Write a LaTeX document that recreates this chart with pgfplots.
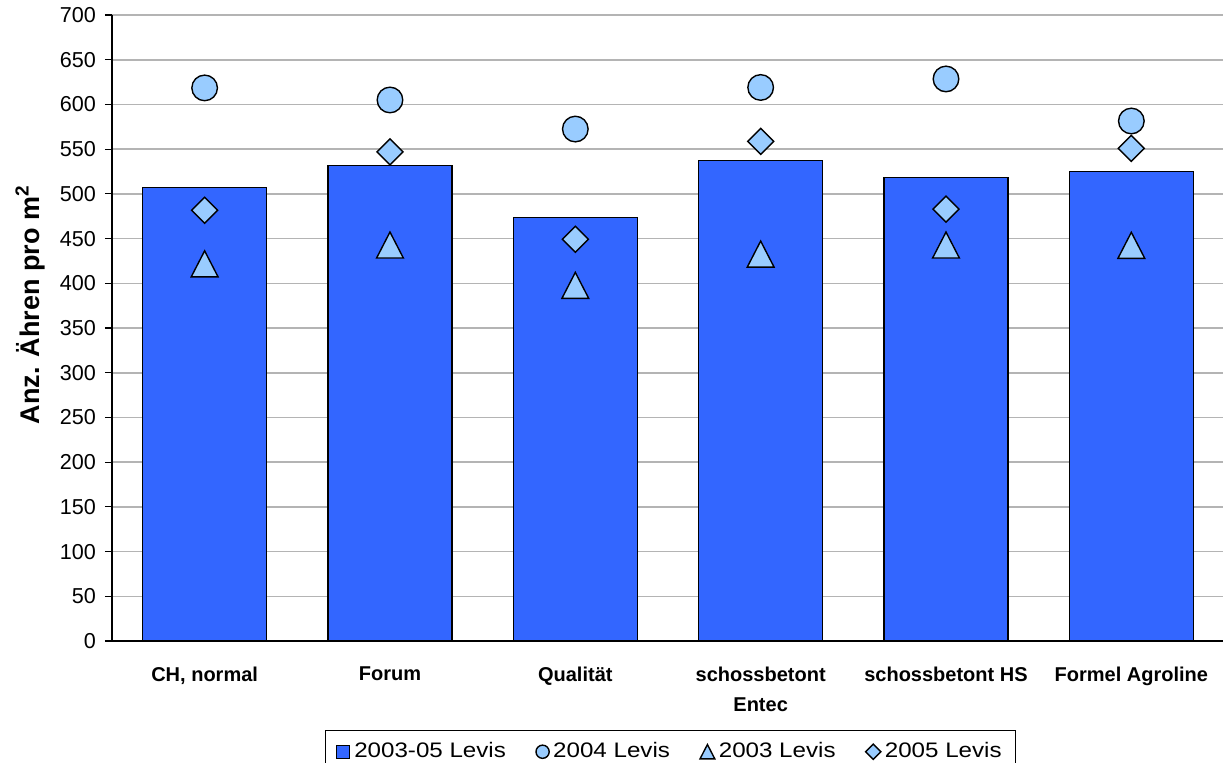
\documentclass[border=0pt]{standalone}
\usepackage{fontspec}
\setmainfont{Liberation Sans}
\newfontfamily\legfont[FakeStretch=1.15]{Liberation Sans}
\usepackage{pgfplots}
\pgfplotsset{compat=1.18}

\definecolor{barblue}{HTML}{3366FF}
\definecolor{markblue}{HTML}{99CCFF}
\definecolor{gridgray}{HTML}{B4B4B4}

% triangle and diamond centred on their bounding box
\pgfdeclareplotmark{boxtri}{%
  \pgfpathmoveto{\pgfqpoint{0pt}{\pgfplotmarksize}}%
  \pgfpathlineto{\pgfqpoint{-1.03\pgfplotmarksize}{-\pgfplotmarksize}}%
  \pgfpathlineto{\pgfqpoint{1.03\pgfplotmarksize}{-\pgfplotmarksize}}%
  \pgfpathclose\pgfusepathqfillstroke}
\pgfdeclareplotmark{boxdia}{%
  \pgfpathmoveto{\pgfqpoint{0pt}{\pgfplotmarksize}}%
  \pgfpathlineto{\pgfqpoint{\pgfplotmarksize}{0pt}}%
  \pgfpathlineto{\pgfqpoint{0pt}{-\pgfplotmarksize}}%
  \pgfpathlineto{\pgfqpoint{-\pgfplotmarksize}{0pt}}%
  \pgfpathclose\pgfusepathqfillstroke}

% a single, smaller mark as legend image
\pgfplotsset{smallmarkleg/.style={legend image code/.code={\draw[mark size=#1, ##1] plot coordinates {(4pt,0pt)};}}}

\begin{document}
\begin{tikzpicture}
\begin{axis}[
  scale only axis,
  width=556pt, height=313pt,
  xmin=-0.5, xmax=5.5,
  ymin=0, ymax=700,
  ytick={0,50,...,700},
  axis x line*=bottom,
  axis y line*=left,
  axis line style={black, line width=0.7pt},
  ymajorgrids,
  major grid style={gridgray, line width=0.8pt},
  tick align=outside,
  major tick length=3.5pt,
  tick style={black, line width=0.6pt},
  xtick={0,...,5},
  xticklabels={CH{,} normal, Forum, Qualität, schossbetont\\Entec, schossbetont HS, Formel Agroline},
  x tick style={draw=none},
  extra x ticks={-0.5,0.5,1.5,2.5,3.5,4.5},
  extra x tick labels={},
  extra x tick style={grid=none, tick style={draw=gray!80!black, line width=0.6pt}, major tick length=4pt},
  xticklabel style={font=\bfseries\fontsize{10}{15}\selectfont, align=center, anchor=north, yshift=-6pt},
  yticklabel style={font=\fontsize{10.8}{12}\selectfont, xshift=-1pt},
  /pgf/number format/assume math mode=true,
  ylabel={Anz. Ähren pro m\textsuperscript{2}},
  ylabel style={font=\bfseries\fontsize{13.5}{15}\selectfont, at={(axis description cs:-0.0737,0.537)}, anchor=center},
  legend columns=4,
  legend style={at={(0.5025,0)}, anchor=north, yshift=-44.5pt, draw=black, line width=0.6pt,
    font=\legfont\fontsize{10.5}{12}\selectfont, inner xsep=5pt, inner ysep=4pt,
    /tikz/every odd column/.append style={column sep=0pt},
    /tikz/every even column/.append style={column sep=13pt}},
  legend cell align=left,
]
\addplot[ybar, bar width=62pt, fill=barblue, draw=black, line width=0.7pt,
  legend image code/.code={\draw[fill=barblue, draw=black, line width=0.6pt] (0.5pt,-3.3pt) rectangle (7.1pt,3.3pt);}]
  coordinates {(0,507) (1,532) (2,473.7) (3,537) (4,518.5) (5,525)};
\addlegendentry{2003-05 Levis}

\addplot[only marks, mark=*, mark size=6.4pt, mark options={fill=markblue, draw=black, line width=0.7pt},
  smallmarkleg=3.3pt]
  coordinates {(0,618.5) (1,605) (2,572.5) (3,619) (4,628.5) (5,581.5)};
\addlegendentry{2004 Levis}

\addplot[only marks, mark=boxtri, mark size=6.5pt, mark options={fill=markblue, draw=black, line width=0.7pt},
  smallmarkleg=3.6pt]
  coordinates {(0,421.8) (1,442.8) (2,397.7) (3,432.7) (4,442.8) (5,442.5)};
\addlegendentry{2003 Levis}

\addplot[only marks, mark=boxdia, mark size=6.5pt, mark options={fill=markblue, draw=black, line width=0.7pt},
  smallmarkleg=3.8pt]
  coordinates {(0,481.6) (1,547) (2,449.2) (3,558.7) (4,483) (5,550.9)};
\addlegendentry{2005 Levis}

\coordinate (bbl) at (rel axis cs:-0.1007,-0.1933);
\coordinate (btr) at (rel axis cs:0.9991,1.024);
\end{axis}
\pgfresetboundingbox
\path (bbl) rectangle (btr);
\end{tikzpicture}
\end{document}
